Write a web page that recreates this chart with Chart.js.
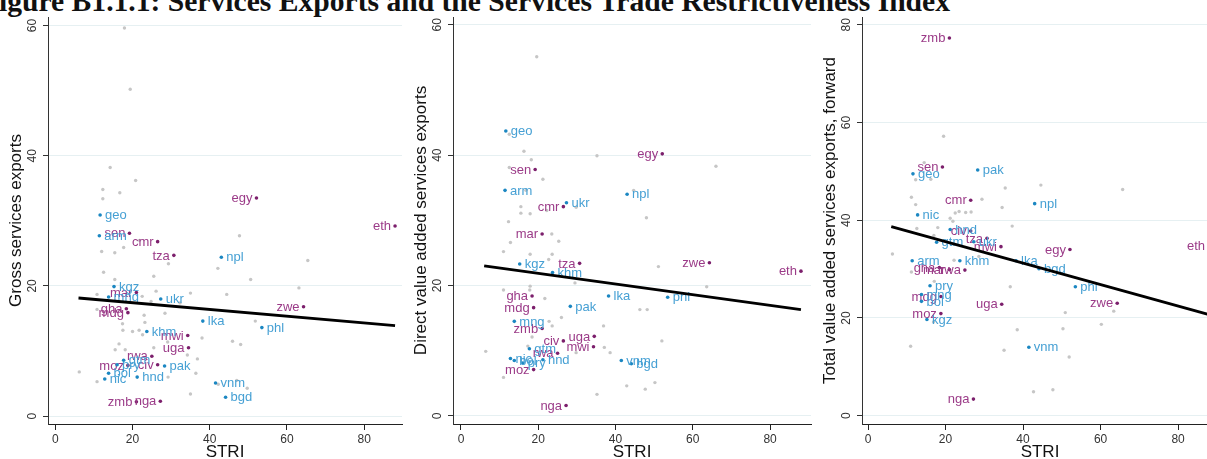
<!DOCTYPE html>
<html>
<head>
<meta charset="utf-8">
<script src="https://cdn.jsdelivr.net/npm/chart.js@4.4.1/dist/chart.umd.min.js"></script>
<style>
  html, body { margin: 0; padding: 0; background: #fff; }
  #wrap { position: relative; width: 1207px; height: 459px; overflow: hidden; }
  #wrap canvas { position: absolute; top: 0; }
  #title {
    position: absolute; right: 257px; top: -14px;
    font: bold 29.6px "Liberation Serif", "Times New Roman", serif;
    line-height: 30px; white-space: nowrap; color: #111;
  }
</style>
</head>
<body>
<div id="wrap">
  <div id="title">Figure B1.1.1: Services Exports and the Services Trade Restrictiveness Index</div>
  <canvas id="gross" width="406" height="459" style="left:0px"></canvas>
  <canvas id="direct" width="410" height="459" style="left:406px"></canvas>
  <canvas id="total" width="410" height="459" style="left:816px"></canvas>
</div>
<script>
// Labelled countries: STRI on x, one y array per panel
const blueCodes  = ['geo', 'arm', 'kgz', 'mng', 'ukr', 'lka', 'phl', 'npl', 'khm', 'pak', 'vnm', 'bgd', 'gtm', 'bol', 'nic', 'hnd', 'pry'];
const blueStri   = [11.6, 11.4, 15.2, 13.8, 27.3, 38.2, 53.5, 43.0, 23.7, 28.3, 41.5, 44.1, 17.7, 13.8, 12.8, 21.2, 16.0];
const blueGross  = [30.9, 27.7, 19.9, 18.3, 18.0, 14.6, 13.6, 24.4, 13.0, 7.7, 5.1, 2.9, 8.6, 6.6, 5.7, 6.0, 7.9];
const blueDirect = [43.7, 34.6, 23.3, 14.5, 32.7, 18.4, 18.2, 34.0, 22.0, 16.8, 8.5, 8.0, 10.3, 8.5, 8.8, 8.6, 8.1];
const blueTotal  = [49.5, 31.7, 19.7, 24.8, 35.6, 31.7, 26.4, 43.4, 31.7, 50.3, 14.0, 30.1, 35.5, 23.4, 41.1, 38.1, 26.6];

const purpleCodes  = ['sen', 'cmr', 'tza', 'egy', 'eth', 'mar', 'gha', 'mdg', 'mwi', 'uga', 'rwa', 'civ', 'moz', 'zmb', 'nga', 'zwe'];
const purpleStri   = [19.2, 26.5, 30.7, 52.1, 88.0, 21.0, 18.4, 18.8, 34.3, 34.5, 25.0, 26.5, 18.8, 21.0, 27.2, 64.3];
const purpleGross  = [28.1, 26.8, 24.7, 33.5, 29.2, 19.0, 16.5, 15.9, 12.4, 10.5, 9.2, 7.9, 7.8, 2.2, 2.3, 16.8];
const purpleDirect = [37.8, 32.1, 23.4, 40.2, 22.2, 27.9, 18.4, 16.6, 10.6, 12.2, 9.6, 11.5, 7.1, 13.4, 1.6, 23.5];
const purpleTotal  = [50.9, 44.1, 36.3, 34.0, 34.7, 29.9, 30.3, 24.4, 34.6, 22.8, 29.8, 37.8, 20.9, 77.3, 3.4, 23.0];

// Unlabelled comparison countries, per panel
const greyGrossX = [17.9, 19.4, 14.2, 20.8, 12.3, 16.7, 12.3, 47.7, 12.0, 15.4, 17.7, 21.8, 29.3, 42.1, 12.5, 15.4, 25.5, 50.6, 65.4, 63.1,
  10.8, 26.1, 35.0, 44.4, 22.5, 24.8, 32.3, 28.4, 10.8, 23.0, 23.2, 17.4, 51.8, 17.5, 20.0, 21.7, 22.6, 38.0, 45.9, 48.0,
  29.1, 16.5, 15.5, 18.1, 25.5, 36.8, 34.2, 29.2, 36.4, 6.2, 10.8, 35.0, 42.2, 47.0, 49.7];
const greyGrossY = [59.6, 50.2, 38.2, 36.2, 34.8, 34.3, 33.4, 27.7, 25.3, 25.1, 25.9, 27.0, 23.4, 22.7, 22.1, 21.0, 21.5, 21.0, 23.9, 19.7,
  18.7, 19.2, 18.9, 18.7, 18.4, 17.6, 17.4, 15.8, 16.4, 15.5, 14.4, 14.2, 14.6, 13.2, 13.0, 13.2, 12.5, 12.0, 11.5, 11.0,
  11.4, 11.1, 10.2, 10.2, 10.5, 8.8, 9.4, 6.0, 6.6, 6.8, 5.3, 3.4, 4.9, 5.5, 4.3];

const greyDirectX = [19.6, 12.5, 16.3, 35.2, 18.2, 12.5, 66.0, 21.2, 16.8, 44.7, 15.5, 15.5, 17.9, 22.2, 29.8, 48.0, 12.3, 23.5, 12.8, 25.3,
  11.0, 17.9, 22.7, 23.6, 51.1, 63.6, 29.5, 17.9, 17.8, 11.0, 21.7, 46.3, 48.2, 26.0, 22.8, 23.6, 36.9, 18.4, 52.0, 37.1,
  38.6, 17.3, 6.4, 29.8, 11.0, 42.9, 47.7, 50.2, 35.2];
const greyDirectY = [55.1, 43.2, 40.6, 39.9, 39.3, 38.1, 38.3, 36.3, 34.6, 34.6, 32.1, 31.1, 31.0, 31.5, 32.0, 30.4, 29.8, 27.9, 26.6, 26.8,
  25.2, 24.8, 24.0, 24.8, 22.9, 19.8, 20.4, 19.9, 19.3, 19.3, 18.0, 16.3, 16.3, 15.1, 14.5, 13.8, 13.8, 12.1, 11.5, 10.5,
  9.7, 10.7, 9.9, 9.7, 5.9, 4.6, 4.1, 5.1, 3.3];

const greyTotalX = [19.5, 14.5, 12.3, 16.2, 35.4, 44.6, 65.7, 11.2, 12.3, 29.4, 34.6, 22.5, 23.5, 25.2, 26.6, 21.2, 21.9, 37.2, 12.6, 18.0,
  17.0, 6.3, 28.6, 22.2, 11.2, 17.1, 36.7, 63.4, 50.9, 16.9, 38.5, 50.3, 60.2, 11.0, 35.1, 51.9, 42.7, 47.7];
const greyTotalY = [57.2, 51.8, 48.3, 48.4, 46.6, 47.2, 46.3, 44.7, 43.2, 44.3, 42.6, 41.5, 41.8, 41.6, 41.7, 40.4, 39.8, 38.8, 38.3, 38.5,
  36.9, 33.1, 32.6, 31.8, 29.4, 27.5, 26.4, 21.4, 21.1, 19.2, 17.6, 17.8, 18.7, 14.2, 13.4, 12.0, 4.9, 5.3];

// Linear fit end points
const fitX = [6, 88];
const grossFit = [18.15, 13.9];
const directFit = [23.0, 16.3];
const totalFit = [38.7, 20.7];

// Axis ticks
const xTicks = [0, 20, 40, 60, 80];
const ticks60 = [0, 20, 40, 60];
const ticks80 = [0, 20, 40, 60, 80];

const SANS = '"Liberation Sans", Arial, Helvetica, sans-serif';
Chart.defaults.font.family = SANS;

const GREY = '#c6c6c6';
const BLUE = '#1b87c2';
const BLUE_TEXT = '#46a0d4';
const PURPLE = '#7c1f6c';
const PURPLE_TEXT = '#9b3b88';

const pts = (xs, ys) => xs.map((x, i) => ({ x: x, y: ys[i] }));

// Country codes next to their markers: blue to the right, purple to the left
const codeLabels = {
  id: 'codeLabels',
  afterDatasetDraw(chart, args) {
    const ds = chart.data.datasets[args.index];
    if (!ds.codes) return;
    const ctx = chart.ctx;
    ctx.save();
    ctx.font = '13px ' + SANS;
    ctx.fillStyle = ds.textColor;
    ctx.textBaseline = 'middle';
    ctx.textAlign = ds.side === 'right' ? 'left' : 'right';
    const dx = ds.side === 'right' ? 5 : -4;
    args.meta.data.forEach((el, i) => {
      ctx.fillText(ds.codes[i], el.x + dx, el.y + 0.6);
    });
    ctx.restore();
  }
};

// Rotated y tick labels plus both axis titles
const axisText = {
  id: 'axisText',
  afterDraw(chart, args, opts) {
    const { ctx, chartArea, scales } = chart;
    const y = scales.y;
    ctx.save();
    ctx.fillStyle = '#333';
    ctx.textAlign = 'center';
    ctx.textBaseline = 'middle';
    ctx.font = '12px ' + SANS;
    y.ticks.forEach(t => {
      ctx.save();
      ctx.translate(chartArea.left - 15, y.getPixelForValue(t.value));
      ctx.rotate(-Math.PI / 2);
      ctx.fillText(String(t.value), 0, 0);
      ctx.restore();
    });
    ctx.fillStyle = '#111';
    ctx.font = '17px ' + SANS;
    ctx.save();
    ctx.translate(chartArea.left - 31.5, (chartArea.top + chartArea.bottom) / 2);
    ctx.rotate(-Math.PI / 2);
    ctx.fillText(opts.yTitle, 0, 0);
    ctx.restore();
    ctx.fillText('STRI', (chartArea.left + chartArea.right) / 2, 452);
    ctx.restore();
  }
};

function makePanel(id, p) {
  const ctx = document.getElementById(id).getContext('2d');
  return new Chart(ctx, {
    type: 'scatter',
    data: {
      datasets: [
        {
          type: 'line',
          data: pts(fitX, p.fit),
          borderColor: '#000',
          borderWidth: 2.8,
          pointRadius: 0,
          fill: false
        },
        {
          data: pts(p.blueX, p.blueY),
          codes: blueCodes, side: 'right', textColor: BLUE_TEXT,
          backgroundColor: BLUE, borderWidth: 0, pointRadius: 1.8
        },
        {
          data: pts(p.purpleX, p.purpleY),
          codes: purpleCodes, side: 'left', textColor: PURPLE_TEXT,
          backgroundColor: PURPLE, borderWidth: 0, pointRadius: 1.8
        },
        {
          data: pts(p.greyX, p.greyY),
          backgroundColor: GREY, borderWidth: 0, pointRadius: 1.7
        }
      ]
    },
    options: {
      responsive: false,
      animation: false,
      events: [],
      layout: { padding: { top: 17, right: p.padRight, left: 0, bottom: 0 } },
      plugins: {
        legend: { display: false },
        tooltip: { enabled: false },
        axisText: { yTitle: p.yTitle }
      },
      scales: {
        x: {
          type: 'linear',
          min: p.xMin, max: p.xMax,
          afterBuildTicks: s => { s.ticks = xTicks.map(v => ({ value: v })); },
          afterFit: s => { s.height = 35; },
          border: { display: true, color: '#222', width: 1 },
          grid: { drawOnChartArea: false, drawTicks: true, tickLength: 6, tickColor: '#222' },
          ticks: { color: '#333', font: { size: 12 }, padding: 2, maxRotation: 0 }
        },
        y: {
          type: 'linear',
          min: p.yMin, max: p.yMax,
          afterBuildTicks: s => { s.ticks = p.yTicks.map(v => ({ value: v })); },
          afterFit: s => { s.width = p.yWidth; },
          border: { display: true, color: '#333', width: 1 },
          grid: { color: '#e6f0f2', lineWidth: 1, drawTicks: true, tickLength: 5, tickColor: '#333' },
          ticks: { display: false }
        }
      }
    },
    plugins: [codeLabels, axisText]
  });
}

makePanel('gross', {
  yTitle: 'Gross services exports',
  fit: grossFit,
  blueX: blueStri, blueY: blueGross,
  purpleX: purpleStri, purpleY: purpleGross,
  greyX: greyGrossX, greyY: greyGrossY,
  xMin: -1.9, xMax: 89.8, yMin: -1.2, yMax: 61.3, yTicks: ticks60,
  yWidth: 48, padRight: 3
});

makePanel('direct', {
  yTitle: 'Direct value added services exports',
  fit: directFit,
  blueX: blueStri, blueY: blueDirect,
  purpleX: purpleStri, purpleY: purpleDirect,
  greyX: greyDirectX, greyY: greyDirectY,
  xMin: -2.07, xMax: 90.6, yMin: -1.25, yMax: 61.2, yTicks: ticks60,
  yWidth: 47, padRight: 5
});

makePanel('total', {
  yTitle: 'Total value added services exports, forward',
  fit: totalFit,
  blueX: blueStri, blueY: blueTotal,
  purpleX: purpleStri, purpleY: purpleTotal,
  greyX: greyTotalX, greyY: greyTotalY,
  xMin: -1.55, xMax: 90.3, yMin: -1.7, yMax: 81.6, yTicks: ticks80,
  yWidth: 46, padRight: 8
});
</script>
</body>
</html>
